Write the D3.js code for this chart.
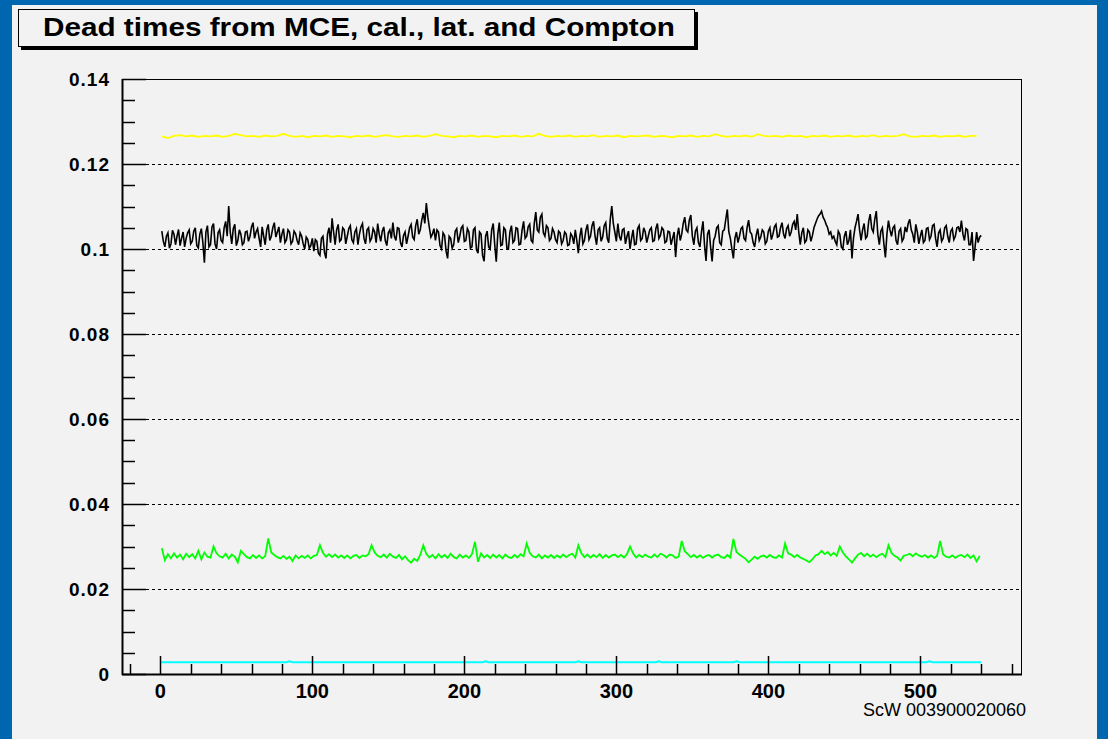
<!DOCTYPE html>
<html lang="en">
<head>
<meta charset="UTF-8">
<title>Dead times from MCE, cal., lat. and Compton</title>
<script src="https://cdn.jsdelivr.net/npm/d3@7"></script>
<style>
  html, body { margin: 0; padding: 0; background: #f2f2f2; }
  svg { display: block; }
</style>
</head>
<body>
<div id="chart"></div>
<script>
// ---- data ----
const titleText = "Dead times from MCE, cal., lat. and Compton";
const xAxisNote = "ScW 003900020060";

const xMajorTicks = [0, 100, 200, 300, 400, 500];
const xTickLabels = ["0", "100", "200", "300", "400", "500"];
const yMajorTicks = [0, 0.02, 0.04, 0.06, 0.08, 0.1, 0.12, 0.14];
const yTickLabels = ["0", "0.02", "0.04", "0.06", "0.08", "0.1", "0.12", "0.14"];

// black (MCE) : x = 1, 2, 3, ... 540
const blackStart = 1, blackStep = 1;
const blackValues = [
  0.1042, 0.1018, 0.1005, 0.1030, 0.1038, 0.1002, 0.1012, 0.1044, 0.1035, 0.1010, 0.1030, 0.1046, 0.1008, 0.1025, 0.1040, 0.1005, 0.1025, 0.1038, 0.1045, 0.1012,
  0.1018, 0.1042, 0.1050, 0.1008, 0.1002, 0.1035, 0.1048, 0.1015, 0.0968, 0.1040, 0.1055, 0.1005, 0.1010, 0.1052, 0.1060, 0.1012, 0.1000, 0.1038, 0.1045, 0.1020,
  0.1015, 0.1050, 0.1065, 0.1030, 0.1101, 0.1040, 0.1012, 0.1048, 0.1058, 0.1008, 0.1020, 0.1045, 0.1035, 0.1010, 0.1015, 0.1040, 0.1042, 0.1018, 0.1030, 0.1052,
  0.1062, 0.1025, 0.1040, 0.1048, 0.1025, 0.1005, 0.1052, 0.1030, 0.1010, 0.1045, 0.1058, 0.1020, 0.1030, 0.1050, 0.1062, 0.1028, 0.1040, 0.1052, 0.1015, 0.1035,
  0.1048, 0.1015, 0.1022, 0.1045, 0.1040, 0.1012, 0.1018, 0.1042, 0.1036, 0.1020, 0.1010, 0.1038, 0.1030, 0.1012, 0.1000, 0.1028, 0.1022, 0.1002, 0.1008, 0.1025,
  0.0995, 0.1022, 0.1018, 0.0990, 0.0985, 0.1025, 0.1030, 0.0992, 0.0978, 0.1035, 0.1050, 0.1015, 0.1072, 0.1040, 0.1010, 0.1045, 0.1058, 0.1018, 0.1022, 0.1050,
  0.1045, 0.1012, 0.1030, 0.1048, 0.1055, 0.1022, 0.1015, 0.1040, 0.1048, 0.1010, 0.1035, 0.1052, 0.1060, 0.1025, 0.1012, 0.1045, 0.1050, 0.1018, 0.1025, 0.1048,
  0.1040, 0.1015, 0.1060, 0.1035, 0.1018, 0.1042, 0.1052, 0.1020, 0.1008, 0.1038, 0.1045, 0.1025, 0.1062, 0.1030, 0.1020, 0.1050, 0.1048, 0.1015, 0.1005, 0.1032,
  0.1040, 0.1012, 0.1030, 0.1050, 0.1058, 0.1028, 0.1022, 0.1055, 0.1070, 0.1035, 0.1045, 0.1068, 0.1085, 0.1060, 0.1108, 0.1075, 0.1050, 0.1028, 0.1035, 0.1048,
  0.1020, 0.1045, 0.1040, 0.1008, 0.1000, 0.1038, 0.1032, 0.0995, 0.0978, 0.1030, 0.1025, 0.1002, 0.1010, 0.1042, 0.1048, 0.1015, 0.1030, 0.1050, 0.1055, 0.1018,
  0.1020, 0.1048, 0.1040, 0.1002, 0.1005, 0.1045, 0.1050, 0.0998, 0.0990, 0.1040, 0.1035, 0.0985, 0.0971, 0.1030, 0.1042, 0.1005, 0.1000, 0.1045, 0.1060, 0.1010,
  0.0970, 0.1035, 0.1062, 0.1008, 0.1010, 0.1050, 0.1045, 0.1002, 0.1000, 0.1040, 0.1055, 0.1015, 0.1020, 0.1050, 0.1048, 0.1010, 0.1012, 0.1045, 0.1065, 0.1025,
  0.1030, 0.1052, 0.1058, 0.1020, 0.1015, 0.1060, 0.1087, 0.1045, 0.1040, 0.1075, 0.1082, 0.1038, 0.1030, 0.1055, 0.1050, 0.1020, 0.1025, 0.1048, 0.1040, 0.1022,
  0.1015, 0.1042, 0.1038, 0.1012, 0.1020, 0.1040, 0.1035, 0.1008, 0.1010, 0.1036, 0.1030, 0.1012, 0.1045, 0.1020, 0.0990, 0.1030, 0.1050, 0.1012, 0.1020, 0.1045,
  0.1058, 0.1022, 0.1030, 0.1055, 0.1065, 0.1030, 0.1010, 0.1045, 0.1050, 0.1018, 0.1028, 0.1055, 0.1062, 0.1025, 0.1015, 0.1070, 0.1101, 0.1060, 0.1040, 0.1018,
  0.1060, 0.1030, 0.1020, 0.1045, 0.1048, 0.1012, 0.1030, 0.1042, 0.1000, 0.1025, 0.1045, 0.1010, 0.1012, 0.1048, 0.1055, 0.1020, 0.1025, 0.1050, 0.1040, 0.1015,
  0.1030, 0.1045, 0.1050, 0.1018, 0.1020, 0.1048, 0.1060, 0.1025, 0.1032, 0.1050, 0.1045, 0.1015, 0.1018, 0.1042, 0.1040, 0.1010, 0.1025, 0.1040, 0.0981, 0.1030,
  0.1050, 0.1020, 0.1035, 0.1060, 0.1075, 0.1045, 0.1040, 0.1068, 0.1080, 0.1030, 0.1010, 0.1042, 0.1050, 0.1015, 0.1005, 0.1040, 0.1065, 0.1010, 0.0972, 0.1035,
  0.1045, 0.1005, 0.0971, 0.1020, 0.1030, 0.1050, 0.1055, 0.1015, 0.1010, 0.1042, 0.1045, 0.1070, 0.1093, 0.1040, 0.1025, 0.1000, 0.0978, 0.1025, 0.1040, 0.1015,
  0.1030, 0.1048, 0.1052, 0.1025, 0.1020, 0.1050, 0.1068, 0.1040, 0.1035, 0.1015, 0.1005, 0.1032, 0.1048, 0.1020, 0.1028, 0.1045, 0.1040, 0.1012, 0.1018, 0.1042,
  0.1050, 0.1022, 0.1035, 0.1052, 0.1058, 0.1028, 0.1030, 0.1050, 0.1062, 0.1035, 0.1025, 0.1048, 0.1055, 0.1030, 0.1040, 0.1058, 0.1065, 0.1045, 0.1082, 0.1040,
  0.1010, 0.1038, 0.1050, 0.1015, 0.1020, 0.1045, 0.1040, 0.1018, 0.1032, 0.1050, 0.1060, 0.1070, 0.1078, 0.1082, 0.1089, 0.1075, 0.1068, 0.1058, 0.1050, 0.1035,
  0.1040, 0.1025, 0.1030, 0.1018, 0.1010, 0.1042, 0.1035, 0.1005, 0.1000, 0.1030, 0.1042, 0.1010, 0.1020, 0.1045, 0.0978, 0.1025, 0.1050, 0.1065, 0.1082, 0.1045,
  0.1020, 0.1045, 0.1060, 0.1025, 0.1030, 0.1065, 0.1082, 0.1048, 0.1040, 0.1070, 0.1089, 0.1035, 0.1010, 0.1042, 0.1050, 0.1012, 0.0980, 0.1035, 0.1067, 0.1045,
  0.1030, 0.1050, 0.1055, 0.1020, 0.1010, 0.1042, 0.1048, 0.1018, 0.1025, 0.1052, 0.1040, 0.1060, 0.1070, 0.1045, 0.1035, 0.1015, 0.1058, 0.1040, 0.1012, 0.1030,
  0.1045, 0.1015, 0.1020, 0.1048, 0.1050, 0.1022, 0.1030, 0.1055, 0.1058, 0.1025, 0.1005, 0.1038, 0.1045, 0.1018, 0.1025, 0.1050, 0.1055, 0.1030, 0.1015, 0.1042,
  0.1048, 0.1022, 0.1030, 0.1050, 0.1052, 0.1040, 0.1067, 0.1035, 0.1020, 0.1048, 0.1045, 0.1010, 0.1010, 0.1040, 0.0972, 0.1005, 0.1040, 0.1015, 0.1028, 0.1032
];

// green (cal.) : x = 1, 3, 5, ... 539
const greenStart = 1, greenStep = 2;
const greenValues = [
  0.0296, 0.0268, 0.0282, 0.0272, 0.0284, 0.0274, 0.0281, 0.0270, 0.0283, 0.0275,
  0.0282, 0.0272, 0.0290, 0.0270, 0.0286, 0.0276, 0.0274, 0.0300, 0.0284, 0.0277,
  0.0274, 0.0283, 0.0272, 0.0281, 0.0276, 0.0263, 0.0290, 0.0282, 0.0275, 0.0272,
  0.0280, 0.0273, 0.0279, 0.0272, 0.0277, 0.0319, 0.0286, 0.0280, 0.0275, 0.0272,
  0.0278, 0.0271, 0.0276, 0.0266, 0.0279, 0.0272, 0.0278, 0.0273, 0.0279, 0.0272,
  0.0278, 0.0280, 0.0303, 0.0285, 0.0276, 0.0282, 0.0275, 0.0281, 0.0274, 0.0279,
  0.0273, 0.0279, 0.0272, 0.0278, 0.0280, 0.0273, 0.0279, 0.0277, 0.0282, 0.0303,
  0.0286, 0.0278, 0.0275, 0.0281, 0.0274, 0.0283, 0.0276, 0.0273, 0.0280, 0.0270,
  0.0277, 0.0268, 0.0262, 0.0271, 0.0266, 0.0280, 0.0303, 0.0283, 0.0274, 0.0280,
  0.0272, 0.0282, 0.0274, 0.0280, 0.0273, 0.0283, 0.0275, 0.0272, 0.0281, 0.0274,
  0.0279, 0.0273, 0.0282, 0.0311, 0.0264, 0.0284, 0.0274, 0.0280, 0.0273, 0.0281,
  0.0274, 0.0280, 0.0272, 0.0281, 0.0275, 0.0273, 0.0280, 0.0274, 0.0282, 0.0277,
  0.0307, 0.0285, 0.0277, 0.0274, 0.0281, 0.0272, 0.0279, 0.0274, 0.0280, 0.0273,
  0.0279, 0.0274, 0.0281, 0.0275, 0.0280, 0.0283, 0.0274, 0.0303, 0.0284, 0.0275,
  0.0281, 0.0274, 0.0280, 0.0275, 0.0282, 0.0273, 0.0280, 0.0274, 0.0279, 0.0281,
  0.0275, 0.0280, 0.0274, 0.0282, 0.0300, 0.0284, 0.0274, 0.0280, 0.0275, 0.0281,
  0.0276, 0.0274, 0.0281, 0.0275, 0.0283, 0.0280, 0.0274, 0.0281, 0.0279, 0.0273,
  0.0276, 0.0313, 0.0289, 0.0282, 0.0275, 0.0280, 0.0274, 0.0279, 0.0273, 0.0278,
  0.0280, 0.0274, 0.0279, 0.0281, 0.0275, 0.0273, 0.0280, 0.0274, 0.0318, 0.0287,
  0.0281, 0.0276, 0.0271, 0.0263, 0.0269, 0.0276, 0.0271, 0.0277, 0.0279, 0.0274,
  0.0280, 0.0275, 0.0273, 0.0279, 0.0274, 0.0307, 0.0284, 0.0281, 0.0275, 0.0280,
  0.0274, 0.0271, 0.0267, 0.0263, 0.0270, 0.0279, 0.0282, 0.0290, 0.0282, 0.0287,
  0.0279, 0.0285, 0.0278, 0.0300, 0.0286, 0.0277, 0.0270, 0.0262, 0.0272, 0.0281,
  0.0285, 0.0277, 0.0283, 0.0276, 0.0281, 0.0275, 0.0280, 0.0283, 0.0275, 0.0303,
  0.0285, 0.0278, 0.0274, 0.0267, 0.0278, 0.0280, 0.0283, 0.0277, 0.0284, 0.0279,
  0.0276, 0.0280, 0.0274, 0.0279, 0.0273, 0.0278, 0.0313, 0.0281, 0.0276, 0.0274,
  0.0279, 0.0273, 0.0278, 0.0280, 0.0275, 0.0281, 0.0273, 0.0279, 0.0265, 0.0278
];

// yellow (lat.) : x = 1, 5, 9, ... 537
const yellowStart = 1, yellowStep = 4;
const yellowValues = [
  0.1265, 0.1261, 0.1266, 0.1268, 0.1265, 0.1267, 0.1264, 0.1266, 0.1265, 0.1267,
  0.1264, 0.1266, 0.1271, 0.1268, 0.1265, 0.1266, 0.1264, 0.1267, 0.1265, 0.1266,
  0.1271, 0.1266, 0.1264, 0.1266, 0.1263, 0.1266, 0.1265, 0.1267, 0.1264, 0.1266,
  0.1265, 0.1263, 0.1266, 0.1265, 0.1267, 0.1264, 0.1266, 0.1268, 0.1265, 0.1264,
  0.1266, 0.1265, 0.1267, 0.1264, 0.1266, 0.1270, 0.1266, 0.1265, 0.1263, 0.1266,
  0.1265, 0.1267, 0.1264, 0.1266, 0.1265, 0.1263, 0.1266, 0.1265, 0.1267, 0.1264,
  0.1266, 0.1265, 0.1271, 0.1266, 0.1264, 0.1266, 0.1265, 0.1267, 0.1264, 0.1266,
  0.1265, 0.1268, 0.1264, 0.1266, 0.1265, 0.1267, 0.1263, 0.1266, 0.1265, 0.1266,
  0.1267, 0.1264, 0.1266, 0.1265, 0.1263, 0.1266, 0.1265, 0.1267, 0.1264, 0.1266,
  0.1265, 0.1270, 0.1266, 0.1264, 0.1266, 0.1265, 0.1267, 0.1264, 0.1270, 0.1266,
  0.1265, 0.1266, 0.1264, 0.1267, 0.1265, 0.1266, 0.1263, 0.1266, 0.1265, 0.1267,
  0.1264, 0.1266, 0.1265, 0.1267, 0.1264, 0.1266, 0.1265, 0.1268, 0.1264, 0.1266,
  0.1265, 0.1266, 0.1270, 0.1265, 0.1264, 0.1266, 0.1265, 0.1267, 0.1264, 0.1266,
  0.1265, 0.1267, 0.1264, 0.1266, 0.1266
];

// cyan (Compton) : flat with a few small bumps
const cyanX = [0, 83, 85, 87, 212, 214, 216, 273, 275, 277, 326, 328, 330, 377, 379, 381, 504, 506, 508, 540];
const cyanValues = [0.00275, 0.00275, 0.0030, 0.00275, 0.00275, 0.0030, 0.00275, 0.00275, 0.0030, 0.00275,
                    0.00275, 0.0030, 0.00275, 0.00275, 0.0030, 0.00275, 0.00275, 0.0030, 0.00275, 0.00275];

// ---- drawing ----
const width = 1108, height = 739;
const frame = {left: 122, right: 1021, top: 79, bottom: 674};

const x = d3.scaleLinear().domain([-25.2, 566.2]).range([frame.left, frame.right]);
const y = d3.scaleLinear().domain([0, 0.14]).range([frame.bottom, frame.top]);

const svg = d3.select("#chart").append("svg")
    .attr("width", width)
    .attr("height", height)
    .attr("viewBox", [0, 0, width, height]);

// canvas background and blue window border
svg.append("rect").attr("width", width).attr("height", height).attr("fill", "#0066b0");
svg.append("rect").attr("x", 12).attr("y", 5).attr("width", width - 12 - 11).attr("height", height - 5)
    .attr("fill", "#f2f2f2");

// dashed grid at major y ticks
svg.append("g")
    .selectAll("line")
    .data(yMajorTicks.filter(v => v > 0 && v < 0.14))
    .join("line")
    .attr("x1", frame.left).attr("x2", frame.right)
    .attr("y1", d => Math.round(y(d)) + 0.5).attr("y2", d => Math.round(y(d)) + 0.5)
    .attr("stroke", "#000").attr("stroke-width", 1)
    .attr("stroke-dasharray", "3,3");

// series
function seriesLine(values, start, step) {
    return d3.line()
        .x((d, i) => x(start + i * step))
        .y(d => y(d))(values);
}

const series = [
    {values: yellowValues, start: yellowStart, step: yellowStep, color: "#ffff00", w: 1.8},
    {values: greenValues, start: greenStart, step: greenStep, color: "#00ff00", w: 1.8},
    {values: blackValues, start: blackStart, step: blackStep, color: "#000000", w: 1.6}
];

svg.append("path")
    .attr("d", d3.line().x((d, i) => x(cyanX[i])).y(d => y(d))(cyanValues))
    .attr("fill", "none").attr("stroke", "#00ffff").attr("stroke-width", 2);

svg.append("g")
    .selectAll("path")
    .data(series)
    .join("path")
    .attr("d", d => seriesLine(d.values, d.start, d.step))
    .attr("fill", "none")
    .attr("stroke", d => d.color)
    .attr("stroke-width", d => d.w)
    .attr("stroke-linejoin", "miter");

// frame
svg.append("rect")
    .attr("x", frame.left + 0.5).attr("y", frame.top + 0.5)
    .attr("width", frame.right - frame.left).attr("height", frame.bottom - frame.top)
    .attr("fill", "none").attr("stroke", "#000").attr("stroke-width", 1);

// y axis ticks (on the left, pointing inside)
const yMinor = d3.range(0, 0.1401, 0.005).filter(v => !yMajorTicks.some(m => Math.abs(m - v) < 1e-9));
const yAxisG = svg.append("g").attr("stroke", "#000").attr("stroke-width", 1.5);
yAxisG.selectAll("line.major")
    .data(yMajorTicks)
    .join("line")
    .attr("class", "major")
    .attr("x1", frame.left).attr("x2", frame.left + 24)
    .attr("y1", d => Math.round(y(d)) + 0.5).attr("y2", d => Math.round(y(d)) + 0.5);
yAxisG.selectAll("line.minor")
    .data(yMinor)
    .join("line")
    .attr("class", "minor")
    .attr("x1", frame.left).attr("x2", frame.left + 13)
    .attr("y1", d => Math.round(y(d)) + 0.5).attr("y2", d => Math.round(y(d)) + 0.5);

svg.append("g")
    .selectAll("text")
    .data(yMajorTicks)
    .join("text")
    .attr("x", 110)
    .attr("y", d => y(d) + 7)
    .attr("text-anchor", "end")
    .attr("font-family", "Liberation Sans, Arial, sans-serif")
    .attr("font-weight", "bold")
    .attr("font-size", 19)
    .attr("letter-spacing", 1)
    .text((d, i) => yTickLabels[i]);

// x axis ticks (at the bottom, pointing up)
const xMinor = d3.range(-20, 561, 20).filter(v => !xMajorTicks.includes(v));
const xAxisG = svg.append("g").attr("stroke", "#000").attr("stroke-width", 1.5);
xAxisG.selectAll("line.major")
    .data(xMajorTicks)
    .join("line")
    .attr("class", "major")
    .attr("x1", d => Math.round(x(d)) + 0.5).attr("x2", d => Math.round(x(d)) + 0.5)
    .attr("y1", frame.bottom).attr("y2", frame.bottom - 18);
xAxisG.selectAll("line.minor")
    .data(xMinor)
    .join("line")
    .attr("class", "minor")
    .attr("x1", d => Math.round(x(d)) + 0.5).attr("x2", d => Math.round(x(d)) + 0.5)
    .attr("y1", frame.bottom).attr("y2", frame.bottom - 10);

// thicker axis lines (left, bottom)
svg.append("line").attr("x1", frame.left + 0.5).attr("x2", frame.left + 0.5)
    .attr("y1", frame.top).attr("y2", frame.bottom + 1).attr("stroke", "#000").attr("stroke-width", 2);
svg.append("line").attr("x1", frame.left).attr("x2", frame.right + 1)
    .attr("y1", frame.bottom + 0.5).attr("y2", frame.bottom + 0.5).attr("stroke", "#000").attr("stroke-width", 2);

svg.append("g")
    .selectAll("text")
    .data(xMajorTicks)
    .join("text")
    .attr("x", d => x(d))
    .attr("y", 698)
    .attr("text-anchor", "middle")
    .attr("font-family", "Liberation Sans, Arial, sans-serif")
    .attr("font-weight", "bold")
    .attr("font-size", 20)
    .text((d, i) => xTickLabels[i]);

svg.append("text")
    .attr("x", 1026)
    .attr("y", 716)
    .attr("text-anchor", "end")
    .attr("font-family", "Liberation Sans Narrow, Liberation Sans, Arial, sans-serif")
    .attr("font-size", 18)
    .attr("textLength", 163)
    .attr("lengthAdjust", "spacingAndGlyphs")
    .text(xAxisNote);

// title box with shadow
svg.append("rect").attr("x", 21).attr("y", 12).attr("width", 677).attr("height", 38).attr("fill", "#000");
svg.append("rect").attr("x", 18.5).attr("y", 9.5).attr("width", 676).attr("height", 37)
    .attr("fill", "#f2f2f2").attr("stroke", "#000").attr("stroke-width", 1);
svg.append("text")
    .attr("x", 43)
    .attr("y", 36)
    .attr("font-family", "Liberation Sans, Arial, sans-serif")
    .attr("font-weight", "bold")
    .attr("font-size", 26)
    .attr("textLength", 632)
    .attr("lengthAdjust", "spacingAndGlyphs")
    .text(titleText);
</script>
</body>
</html>
